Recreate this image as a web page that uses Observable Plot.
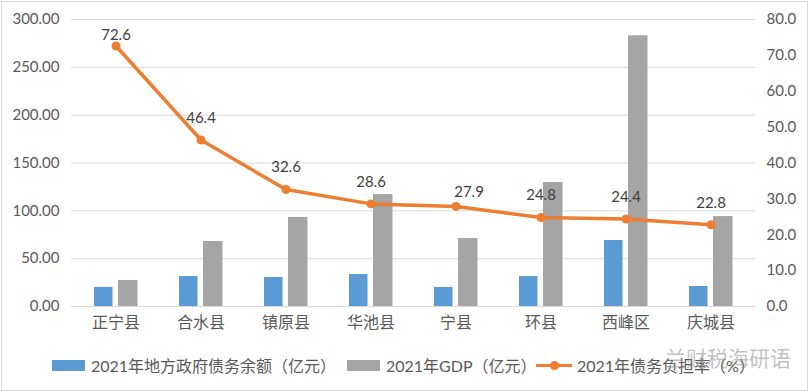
<!DOCTYPE html>
<html>
<head>
<meta charset="utf-8">
<script src="https://cdn.jsdelivr.net/npm/d3@7"></script>
<script src="https://cdn.jsdelivr.net/npm/@observablehq/plot@0.6"></script>
<style>
  html, body { margin: 0; padding: 0; background: #fff; }
  #wrap { position: relative; width: 809px; height: 392px; overflow: hidden; }
  #frame { position: absolute; left: 1px; top: 1px; width: 805px; height: 388px; border: 1px solid #d9d9d9; pointer-events: none; }
  #chart { position: absolute; left: 0; top: 0; }
  #legend { position: absolute; left: 0; top: 340px; width: 809px; height: 50px;
    font-family: Lato, "Noto Sans CJK SC", sans-serif; font-size: 16px; color: #595959; }
  .item { position: absolute; top: 16px; display: flex; align-items: center; height: 18px; white-space: nowrap; }
  .sw { display: inline-block; width: 33px; height: 11px; margin-right: 6px; }
  .ln { position: relative; display: inline-block; width: 36px; height: 11px; margin-right: 5px; }
  .ln::before { content: ""; position: absolute; left: 0; right: 0; top: 4px; height: 3.5px; background: #ED7D31; }
  .ln::after { content: ""; position: absolute; left: 14px; top: 1px; width: 9px; height: 9px; border-radius: 50%; background: #ED7D31; }
  #wm { position: absolute; left: 665px; top: 2px; font-family: "Noto Sans CJK SC", sans-serif; font-size: 21px; color: rgba(140,140,140,0.55); }
</style>
</head>
<body>
<div id="wrap">
  <div id="chart"></div>
  <div id="legend"></div>
  <div id="frame"></div>
</div>
<script>
// ---- data ----
const counties = ["正宁县", "合水县", "镇原县", "华池县", "宁县", "环县", "西峰区", "庆城县"];
const debt = [20.0, 31.3, 30.3, 33.4, 19.9, 31.3, 69.0, 20.9];      // 2021年地方政府债务余额（亿元）
const gdp = [27.2, 67.9, 93.0, 117.0, 71.0, 129.6, 283.0, 94.0];     // 2021年GDP（亿元）
const rate = [72.6, 46.4, 32.6, 28.6, 27.9, 24.8, 24.4, 22.8];       // 2021年债务负担率（%）
const leftTicks = [0, 50, 100, 150, 200, 250, 300];
const rightTicks = [0, 10, 20, 30, 40, 50, 60, 70, 80];
const seriesNames = ["2021年地方政府债务余额（亿元）", "2021年GDP（亿元）", "2021年债务负担率（%）"];
const colors = ["#5B9BD5", "#A5A5A5", "#ED7D31"];

// ---- layout ----
const W = 809, H = 340, mL = 71, mR = 54, mT = 19, mB = 34;
const leftMax = 300, rightMax = 80, k = leftMax / rightMax;
const bw = (W - mL - mR) / counties.length;
// label nudges (style only): default above the point; a few moved as in the original
const nudge = {"正宁县": [0, -11], "宁县": [13, -14]};
const defaultNudge = [0, -22];

const rows = counties.map((c, i) => ({county: c, debt: debt[i], gdp: gdp[i], rate: rate[i], rateY: rate[i] * k}));

const font = 'Lato, "Noto Sans CJK SC", sans-serif';

const labelMarks = [];
const defaultRows = rows.filter(d => !(d.county in nudge));
labelMarks.push(Plot.text(defaultRows, {x: "county", y: "rateY", text: d => d.rate.toFixed(1), dx: defaultNudge[0], dy: defaultNudge[1], fill: "#404040", fontSize: 15}));
for (const c of Object.keys(nudge)) {
  labelMarks.push(Plot.text(rows.filter(d => d.county === c), {x: "county", y: "rateY", text: d => d.rate.toFixed(1), dx: nudge[c][0], dy: nudge[c][1], fill: "#404040", fontSize: 15}));
}

const plot = Plot.plot({
  width: W, height: H,
  marginLeft: mL, marginRight: mR, marginTop: mT, marginBottom: mB,
  style: {fontFamily: font, fontSize: "15px", color: "#595959", background: "transparent"},
  x: {domain: counties, padding: 0, label: null},
  y: {domain: [0, leftMax], label: null},
  marks: [
    Plot.gridY(leftTicks, {stroke: "#d9d9d9", strokeOpacity: 1, strokeWidth: 1}),
    Plot.barY(rows, {x: "county", y: "debt", fill: colors[0], insetLeft: bw / 2 - 21.75, insetRight: bw / 2 + 2.75}),
    Plot.barY(rows, {x: "county", y: "gdp", fill: colors[1], insetLeft: bw / 2 + 2.25, insetRight: bw / 2 - 22.25}),
    Plot.line(rows, {x: "county", y: "rateY", stroke: colors[2], strokeWidth: 3.5, curve: "linear"}),
    Plot.dot(rows, {x: "county", y: "rateY", r: 4.5, fill: colors[2], stroke: null}),
    ...labelMarks,
    Plot.axisY(leftTicks, {anchor: "left", tickSize: 0, tickPadding: 12, tickFormat: d3.format(".2f"), label: null, fill: "#595959", fontSize: 15}),
    Plot.axisY(rightTicks.map(t => t * k), {anchor: "right", tickSize: 0, tickPadding: 11, tickFormat: d => (d / k).toFixed(1), label: null, fill: "#595959", fontSize: 15}),
    Plot.axisX({tickSize: 0, tickPadding: 10, label: null, fill: "#595959", fontSize: 16, fontFamily: '"Noto Sans CJK SC", sans-serif'})
  ]
});
document.getElementById("chart").appendChild(plot);

// ---- legend ----
const legend = document.getElementById("legend");
const lefts = [52, 347, 536];
seriesNames.forEach((name, i) => {
  const it = document.createElement("div");
  it.className = "item";
  it.style.left = lefts[i] + "px";
  const sw = document.createElement("span");
  if (i < 2) { sw.className = "sw"; sw.style.background = colors[i]; }
  else { sw.className = "ln"; }
  it.appendChild(sw);
  const t = document.createElement("span");
  t.textContent = name;
  it.appendChild(t);
  legend.appendChild(it);
});
const wm = document.createElement("div");
wm.id = "wm";
wm.textContent = "兰财税海研语";
legend.appendChild(wm);
</script>
</body>
</html>
